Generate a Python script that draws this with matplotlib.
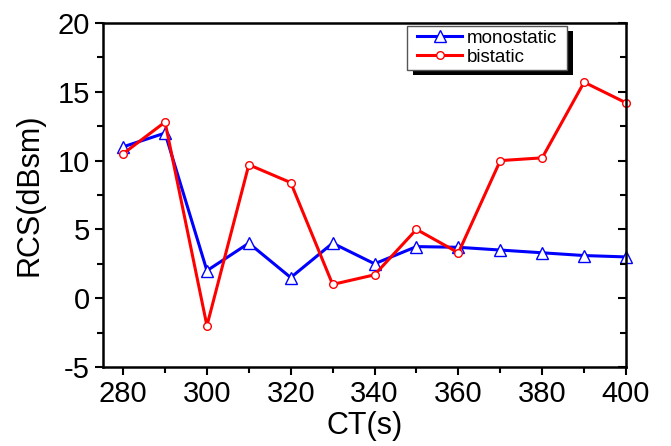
import numpy as np
import matplotlib.pyplot as plt
from matplotlib.ticker import MultipleLocator
from matplotlib.patches import Rectangle

plt.rcParams['font.family'] = ['Liberation Sans', 'DejaVu Sans']
plt.rcParams['axes.unicode_minus'] = False

# CT (s)
ct = [280, 290, 300, 310, 320, 330, 340, 350, 360, 370, 380, 390, 400]
# RCS (dBsm)
monostatic = [11.0, 12.0, 2.0, 4.0, 1.5, 4.0, 2.5, 3.75, 3.7, 3.5, 3.3, 3.1, 3.0]
bistatic = [10.5, 12.8, -2.0, 9.7, 8.4, 1.0, 1.7, 5.0, 3.3, 10.0, 10.2, 15.7, 14.2]

fig = plt.figure(figsize=(6.71, 4.46), dpi=100)
ax = fig.add_axes([103 / 671, 1 - 367 / 446, 523 / 671, 344 / 446])

ax.plot(ct, monostatic, color='#0000ff', lw=2.2, marker='^', ms=8,
        mfc='white', mec='#0000ff', mew=1.0, label='monostatic', clip_on=False)
ax.plot(ct, bistatic, color='#ff0000', lw=2.2, marker='o', ms=5.5,
        mfc='white', mec='#ff0000', mew=1.0, label='bistatic', clip_on=False)

ax.set_xlim(275.2, 400)
ax.set_ylim(-5, 20)
ax.xaxis.set_major_locator(MultipleLocator(20))
ax.xaxis.set_minor_locator(MultipleLocator(10))
ax.yaxis.set_major_locator(MultipleLocator(5))
ax.yaxis.set_minor_locator(MultipleLocator(2.5))

ax.tick_params(which='both', direction='out', width=1.5, labelsize=21,
               top=False, right=False, pad=3.5)
ax.tick_params(which='major', length=6)
ax.tick_params(which='minor', length=4)
for s in ax.spines.values():
    s.set_linewidth(1.8)

# mirrored inward ticks on the right spine
ax2 = ax.twinx()
ax2.set_ylim(ax.get_ylim())
ax2.yaxis.set_major_locator(MultipleLocator(5))
ax2.yaxis.set_minor_locator(MultipleLocator(2.5))
ax2.tick_params(which='both', direction='in', width=1.5, labelright=False)
ax2.tick_params(which='major', length=6)
ax2.tick_params(which='minor', length=4)
for s in ax2.spines.values():
    s.set_visible(False)

ax.set_xlabel('CT(s)', fontsize=22, labelpad=2)
ax.set_ylabel('RCS(dBsm)', fontsize=22, labelpad=9)

leg = ax.legend(loc='upper left', bbox_to_anchor=(0.601, 0.981), borderaxespad=0,
                fontsize=13.5, frameon=False,
                handlelength=2.4, handletextpad=0.25, labelspacing=0.1,
                borderpad=0)
leg.set_zorder(6)

# Origin-style legend box with an offset black shadow
fig.canvas.draw()
bb = leg.get_window_extent()
px, py = 10, 4
frame = Rectangle((bb.x0 - px, bb.y0 - py), bb.width + 2 * px, bb.height + 2 * py,
                  transform=None, facecolor='white', edgecolor='#555555', lw=1.0,
                  zorder=5, clip_on=False)
shadow = Rectangle((bb.x0 - px + 6, bb.y0 - py - 5), bb.width + 2 * px, bb.height + 2 * py,
                   transform=None, facecolor='black', edgecolor='none', zorder=4,
                   clip_on=False)
ax.add_artist(shadow)
ax.add_artist(frame)

fig.savefig('out.png', dpi=100)
